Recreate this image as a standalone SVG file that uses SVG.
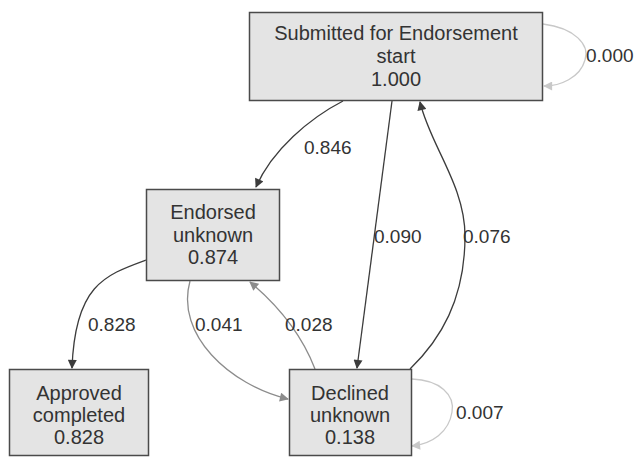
<svg xmlns="http://www.w3.org/2000/svg" width="637" height="458" viewBox="0 0 637 458">
<style>
.box{fill:#e4e4e4;stroke:#4a4a4a;stroke-width:1.5}
.t{font-family:"Liberation Sans",Arial,sans-serif;font-size:20px;fill:#333;text-anchor:middle}
.l{font-family:"Liberation Sans",Arial,sans-serif;font-size:19px;fill:#333}
.e{fill:none;stroke-width:1.3}
.dk{stroke:#3c3c3c}
.gr{stroke:#8c8c8c}
.lg{stroke:#c8c8c8}
</style>
<defs>
<marker id="ad" viewBox="0 0 10 10" refX="9" refY="5" markerWidth="10" markerHeight="9" orient="auto" markerUnits="userSpaceOnUse"><path d="M0,0 L10,5 L0,10 z" fill="#3c3c3c"/></marker>
<marker id="ag" viewBox="0 0 10 10" refX="9" refY="5" markerWidth="10" markerHeight="9" orient="auto" markerUnits="userSpaceOnUse"><path d="M0,0 L10,5 L0,10 z" fill="#8c8c8c"/></marker>
<marker id="al" viewBox="0 0 10 10" refX="9" refY="5" markerWidth="10" markerHeight="9" orient="auto" markerUnits="userSpaceOnUse"><path d="M0,0 L10,5 L0,10 z" fill="#c8c8c8"/></marker>
</defs>
<rect width="637" height="458" fill="#fff"/>
<g id="connectors">
<path class="e lg" d="M543,24 C575,28 590,45 585,60 C580,78 560,86 544,86" marker-end="url(#al)"/>
<path class="e dk" d="M343,101 C310,118 272,150 256,187" marker-end="url(#ad)"/>
<path class="e dk" d="M392,101 L357,368" marker-end="url(#ad)"/>
<path class="e dk" d="M410,369 C440,340 465,300 465,236 C465,185 430,145 420,102" marker-end="url(#ad)"/>
<path class="e dk" d="M146,260 C105,275 75,285 72,368" marker-end="url(#ad)"/>
<path class="e gr" d="M190,281 C175,335 230,385 288,399" marker-end="url(#ag)"/>
<path class="e gr" d="M315,369 C300,330 275,303 250,282" marker-end="url(#ag)"/>
<path class="e lg" d="M412,379 C440,380 455,395 452,412 C449,432 432,444 412,446" marker-end="url(#al)"/>
<text class="l" x="586" y="62">0.000</text>
<text class="l" x="304" y="154">0.846</text>
<text class="l" x="374" y="243">0.090</text>
<text class="l" x="463" y="243">0.076</text>
<text class="l" x="88" y="331">0.828</text>
<text class="l" x="195" y="331">0.041</text>
<text class="l" x="285" y="331">0.028</text>
<text class="l" x="456" y="419">0.007</text>
</g>
<g id="submitted">
<rect class="box" x="249.5" y="12.5" width="293" height="88"/>
<text class="t" x="396" y="40">Submitted for Endorsement</text>
<text class="t" x="396" y="63">start</text>
<text class="t" x="396" y="86">1.000</text>
</g>
<g id="endorsed">
<rect class="box" x="146.5" y="189.5" width="133" height="91"/>
<text class="t" x="213" y="219">Endorsed</text>
<text class="t" x="213" y="242">unknown</text>
<text class="t" x="213" y="264">0.874</text>
</g>
<g id="approved">
<rect class="box" x="9.5" y="369.5" width="139" height="86"/>
<text class="t" x="79" y="400">Approved</text>
<text class="t" x="79" y="422">completed</text>
<text class="t" x="79" y="444">0.828</text>
</g>
<g id="declined">
<rect class="box" x="289.5" y="369.5" width="122" height="86"/>
<text class="t" x="350" y="400">Declined</text>
<text class="t" x="350" y="422">unknown</text>
<text class="t" x="350" y="444">0.138</text>
</g>
</svg>
